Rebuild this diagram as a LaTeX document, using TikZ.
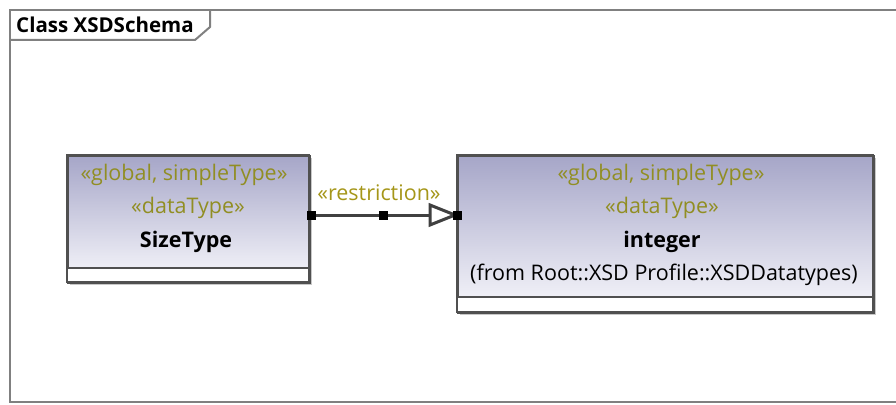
\documentclass[tikz,border=0pt]{standalone}
\usepackage{fontspec}
\setmainfont{Open Sans}
\usetikzlibrary{arrows.meta}
\definecolor{framegray}{RGB}{128,128,128}
\definecolor{boxline}{RGB}{80,80,80}
\definecolor{boxtop}{RGB}{166,166,200}
\definecolor{boxbot}{RGB}{248,248,252}
\definecolor{stereo}{RGB}{145,142,35}
\definecolor{restr}{RGB}{165,150,25}
\definecolor{shadowgray}{RGB}{200,200,200}
\definecolor{connline}{RGB}{64,64,64}
\tikzset{
  umlbox/.style={draw=boxline, line width=2pt, top color=boxtop, bottom color=boxbot, inner sep=0pt, anchor=north west},
  stereotxt/.style={text=stereo, font=\fontsize{21.5}{24}\selectfont, inner sep=0pt},
  nametxt/.style={text=black, font=\fontsize{21.5}{24}\selectfont\bfseries, inner sep=0pt},
  plaintxt/.style={text=black, font=\fontsize{21.5}{24}\selectfont, inner sep=0pt},
  endsq/.style={fill=black, minimum size=9pt, inner sep=0pt, draw=none}
}
\begin{document}
\begin{tikzpicture}[x=1pt,y=-1pt]
\useasboundingbox (0,0) rectangle (896,404);
% frame
\draw[framegray, line width=2pt] (896,10) -- (10,10) -- (10,402) -- (896,402);
\draw[framegray, line width=2pt] (10,40) -- (195,40) -- (210,27) -- (210,10);
\node[anchor=west, font=\fontsize{20.5}{22}\selectfont\bfseries, inner sep=0pt] (title) at (16,25) {Class XSDSchema};
% left box
\fill[shadowgray] (70,158) rectangle (312,285);
\node[umlbox, minimum width=242pt, minimum height=127pt] (sizetype) at (67,155) {};
\fill[white] (67,268) rectangle (309,282);
\draw[boxline, line width=2pt] (67,268) -- (309,268);
\draw[boxline, line width=2pt] (67,155) rectangle (309,282);
\node[stereotxt] (s1) at (184,175) {«global, simpleType»};
\node[stereotxt] (s2) at (188,208) {«dataType»};
\node[nametxt] (s3) at (186,242) {SizeType};
% right box
\fill[shadowgray] (460,158) rectangle (876,315);
\node[umlbox, minimum width=416pt, minimum height=157pt] (integer) at (457,155) {};
\fill[white] (457,297) rectangle (873,312);
\draw[boxline, line width=2pt] (457,297) -- (873,297);
\draw[boxline, line width=2pt] (457,155) rectangle (873,312);
\node[stereotxt] (i1) at (661,175) {«global, simpleType»};
\node[stereotxt] (i2) at (662,208) {«dataType»};
\node[nametxt] (i3) at (662,242) {integer};
\node[plaintxt] (i4) at (664,275) {(from Root::XSD Profile::XSDDatatypes)};
% connector
\coordinate (cs) at (sizetype.north east |- 0,215);
\coordinate (ce) at (integer.north west |- 0,215);
\coordinate (cm) at (383,215);
\coordinate (tb) at (430,215);
\draw[connline, line width=3pt] (cs) -- (tb);
\draw[connline, line width=3pt, fill=white, line join=miter] (tb) ++(0,-10) -- ++(25,10) -- ++(-25,10) -- cycle;
\node[endsq] (q1) at (cs) {};
\node[endsq] (q2) at (cm) {};
\node[endsq] (q3) at (ce) {};
\node[text=restr, font=\fontsize{21.5}{24}\selectfont, inner sep=0pt] (rl) at (379,193) {«restriction»};
\end{tikzpicture}
\end{document}
